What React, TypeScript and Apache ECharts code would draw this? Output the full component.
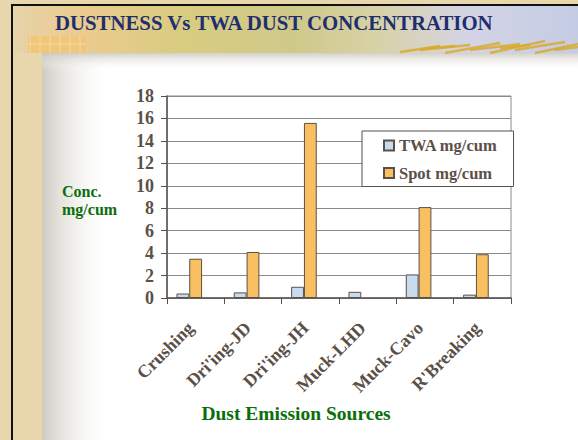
import React, { useEffect, useRef } from "react";
import * as echarts from "echarts";

const categories = ["Crushing", "Dri'ing-JD", "Dri'ing-JH", "Muck-LHD", "Muck-Cavo", "R'Breaking"];
const twaValues: (number | string)[] = [0.4, 0.5, 1.0, 0.55, 2.1, 0.3];
const spotValues: (number | string)[] = [3.5, 4.1, 15.6, "-", 8.1, 3.9];
const seriesNames = ["TWA mg/cum", "Spot mg/cum"];
const titleText = "DUSTNESS Vs TWA DUST CONCENTRATION";
const yAxisTitle = "Conc.\nmg/cum";
const xAxisTitle = "Dust Emission Sources";

const SERIF = "'Liberation Serif', 'Times New Roman', serif";
const INK = "#5B5048";
const GREEN = "#0A6E0A";

export default function App() {
  const ref = useRef<HTMLDivElement>(null);
  useEffect(() => {
    if (!ref.current) return;
    const chart = echarts.init(ref.current, undefined, { renderer: "svg" });
    const wheat: any[] = [];
    const wheatSegs = [
      [400, 52, 440, 46], [420, 50, 470, 45], [445, 53, 500, 43], [470, 50, 520, 44],
      [490, 53, 545, 41], [515, 50, 565, 42], [535, 53, 578, 44], [555, 50, 578, 47],
      [430, 48, 455, 46], [500, 48, 530, 45],
    ];
    wheatSegs.forEach((s) =>
      wheat.push({
        type: "line",
        shape: { x1: s[0], y1: s[1], x2: s[2], y2: s[3] },
        style: { stroke: "#D9A928", lineWidth: 2.5, opacity: 0.8 },
        silent: true,
      })
    );
    const squares: any[] = [];
    for (let i = 0; i < 6; i++) {
      squares.push({
        type: "line",
        shape: { x1: 30 + i * 10, y1: 36, x2: 30 + i * 10, y2: 53 },
        style: { stroke: "#F6D9A0", lineWidth: 1 },
        silent: true,
      });
    }
    squares.push({
      type: "line",
      shape: { x1: 28, y1: 44, x2: 86, y2: 44 },
      style: { stroke: "#F6D9A0", lineWidth: 1 },
      silent: true,
    });

    chart.setOption({
      animation: false,
      backgroundColor: "#E8D6AC",
      graphic: [
        { type: "rect", shape: { x: 14, y: 53, width: 564, height: 387 }, style: { fill: "#FFFFFF" }, silent: true, z: -10 },
        { type: "rect", shape: { x: 14, y: 53, width: 28, height: 387 }, style: { fill: "#E8D6AC" }, silent: true, z: -9 },
        {
          type: "rect",
          shape: { x: 42, y: 53, width: 70, height: 387 },
          style: {
            fill: new echarts.graphic.LinearGradient(0, 0, 1, 0, [
              { offset: 0, color: "#CFCBC2" },
              { offset: 1, color: "rgba(255,255,255,0)" },
            ]),
          },
          silent: true,
          z: -8,
        },
        {
          type: "rect",
          shape: { x: 42, y: 53, width: 536, height: 18 },
          style: {
            fill: new echarts.graphic.LinearGradient(0, 0, 0, 1, [
              { offset: 0, color: "rgba(200,196,188,0.8)" },
              { offset: 1, color: "rgba(255,255,255,0)" },
            ]),
          },
          silent: true,
          z: -8,
        },
        {
          type: "rect",
          shape: { x: 14, y: 6, width: 564, height: 47 },
          style: {
            fill: new echarts.graphic.LinearGradient(0, 0, 1, 0, [
              { offset: 0, color: "#E6D3A8" },
              { offset: 0.12, color: "#EBCB8E" },
              { offset: 0.3, color: "#D8CC80" },
              { offset: 0.5, color: "#CFC98A" },
              { offset: 0.65, color: "#D8D2A8" },
              { offset: 0.8, color: "#D4D4E4" },
              { offset: 1, color: "#C4CCE4" },
            ]),
          },
          silent: true,
          z: -7,
        },
        { type: "rect", shape: { x: 28, y: 36, width: 58, height: 17 }, style: { fill: "#F0C67A" }, silent: true, z: -6 },
        ...squares.map((s) => ({ ...s, z: -5 })),
        ...wheat.map((s) => ({ ...s, z: -5 })),
        { type: "rect", shape: { x: 11, y: 4, width: 567, height: 2 }, style: { fill: "#111111" }, silent: true, z: -4 },
        { type: "rect", shape: { x: 11, y: 4, width: 2, height: 436 }, style: { fill: "#111111" }, silent: true, z: -4 },
        {
          type: "text",
          x: 55,
          y: 22,
          style: {
            text: titleText,
            fill: "#1F2F6E",
            font: `bold 20.8px ${SERIF}`,
            verticalAlign: "middle",
            textShadowColor: "rgba(255,255,255,0.7)",
            textShadowOffsetX: 1,
            textShadowOffsetY: 1,
          },
        },
        {
          type: "text",
          x: 62,
          y: 182,
          style: {
            text: yAxisTitle,
            fill: GREEN,
            font: `bold 16px ${SERIF}`,
            lineHeight: 18,
            verticalAlign: "top",
          },
        },
        {
          type: "text",
          x: 296,
          y: 413,
          style: {
            text: xAxisTitle,
            fill: GREEN,
            font: `bold 19.5px ${SERIF}`,
            align: "center",
            verticalAlign: "middle",
          },
        },
      ],
      grid: {
        left: 167,
        top: 96,
        width: 344,
        height: 202,
        show: true,
        borderColor: "#8A8A8A",
        borderWidth: 1,
        backgroundColor: "transparent",
      },
      legend: {
        data: seriesNames,
        orient: "vertical",
        left: 362,
        top: 131,
        padding: [6, 16, 5, 21],
        itemGap: 10.5,
        itemWidth: 10,
        itemHeight: 10,
        backgroundColor: "#FFFFFF",
        borderColor: "#55504A",
        borderWidth: 1,
        icon: "rect",
        textStyle: { fontFamily: SERIF, fontWeight: "bold", fontSize: 16.5, color: INK },
      },
      xAxis: {
        type: "category",
        data: categories,
        axisLine: { lineStyle: { color: INK, width: 1.5 } },
        axisTick: { show: true, length: 6, lineStyle: { color: INK } },
        axisLabel: {
          rotate: 45,
          margin: 22,
          padding: [0, 7, 0, 0],
          interval: 0,
          fontFamily: SERIF,
          fontWeight: "bold",
          fontSize: 18,
          color: INK,
        },
      },
      yAxis: {
        type: "value",
        min: 0,
        max: 18,
        interval: 2,
        axisLine: { show: true, lineStyle: { color: INK, width: 1.5 } },
        axisTick: { show: true, length: 6, lineStyle: { color: INK } },
        splitLine: { lineStyle: { color: "#8A8A8A", width: 1 } },
        axisLabel: {
          margin: 13,
          fontFamily: SERIF,
          fontWeight: "bold",
          fontSize: 18,
          color: INK,
        },
      },
      series: [
        {
          name: seriesNames[0],
          type: "bar",
          data: twaValues,
          barGap: "0%",
          barCategoryGap: "33%",
          itemStyle: { color: "#C8DCF0", borderColor: INK, borderWidth: 1 },
        },
        {
          name: seriesNames[1],
          type: "bar",
          data: spotValues,
          itemStyle: { color: "#F9C062", borderColor: INK, borderWidth: 1 },
        },
        {
          name: "pad",
          type: "bar",
          data: categories.map(() => "-"),
          itemStyle: { color: "transparent" },
        },
      ],
    });
    return () => chart.dispose();
  }, []);
  return <div ref={ref} style={{ position: "fixed", left: 0, top: 0, width: 578, height: 440 }} />;
}
